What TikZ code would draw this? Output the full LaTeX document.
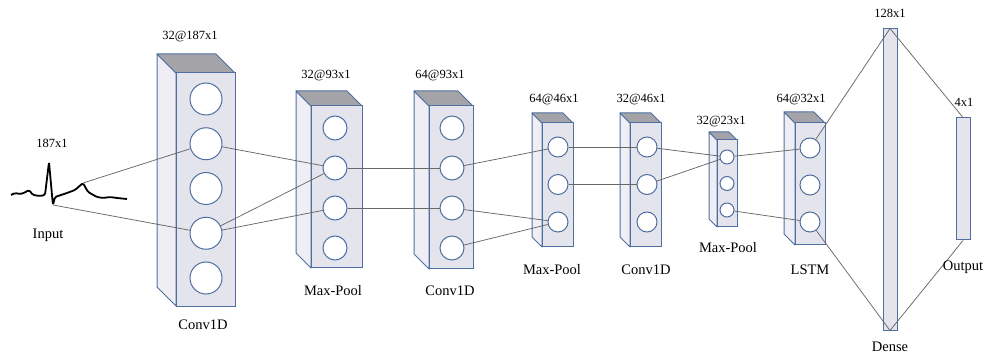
\documentclass[tikz,border=0pt]{standalone}
\usepackage{fontspec}
\setmainfont{Liberation Serif}
\definecolor{edgeblue}{HTML}{4F6FA0}
\definecolor{facegray}{HTML}{E4E4EC}
\definecolor{sidegray}{HTML}{EEEEF4}
\definecolor{topgray}{HTML}{A4A4A8}
\definecolor{linkgray}{HTML}{686868}
\begin{document}
\begin{tikzpicture}[x=1pt, y=-1pt,
  unit/.style={circle, draw=edgeblue, fill=white, line width=1pt, inner sep=0pt},
  link/.style={draw=linkgray, line width=0.75pt},
  dim/.style={font=\fontsize{12.5}{14}\selectfont},
  lbl/.style={font=\fontsize{14.5}{16}\selectfont}]
\useasboundingbox (0,0) rectangle (991,358);

% Blocks: front face, top and left side
\foreach \xa/\ya/\xb/\yb/\d in {
  176/73/235/306/19,
  311/106/362/268/15,
  429/106/473/269/15,
  542/123/573/247/10,
  630/123/661/247/10,
  717/140/737/227/8,
  795/123/825/245/11
} {
  \filldraw[draw=edgeblue, fill=sidegray, line width=1pt, line join=round]
    (\xa-\d,\ya-\d) -- (\xa,\ya) -- (\xa,\yb) -- (\xa-\d,\yb-\d) -- cycle;
  \filldraw[draw=edgeblue, fill=topgray, line width=1pt, line join=round]
    (\xa-\d,\ya-\d) -- (\xb-\d,\ya-\d) -- (\xb,\ya) -- (\xa,\ya) -- cycle;
  \filldraw[draw=edgeblue, fill=facegray, line width=1pt] (\xa,\ya) rectangle (\xb,\yb);
}

% Units in each block (block / x / radius / count / first y / spacing)
\foreach \b/\x/\r/\n/\yo/\dy in {
  1/206/16/5/99/44.75,
  2/335/12/4/128/40,
  3/452/12/4/128/40,
  4/558/10/3/147/37.5,
  5/647/10/3/147/37.5,
  6/727/7/3/157/26.5,
  7/810/10/3/148/37
} {
  \foreach \i in {1,...,\n} {
    \node[unit, minimum size=2*\r] (c\b-\i) at (\x,{\yo+(\i-1)*\dy}) {};
  }
}

% Dense and output layers
\node[draw=edgeblue, fill=facegray, line width=1pt, minimum width=14pt,
  minimum height=301pt, inner sep=0pt] (dense) at (890,179.5) {};
\node[draw=edgeblue, fill=facegray, line width=1pt, minimum width=14pt,
  minimum height=122pt, inner sep=0pt] (out) at (963,179) {};

% Input signal
\draw[line width=1.8pt, line join=round, rounded corners=1.5pt]
  (11,195) -- (15,193) -- (20,194) -- (24,193) -- (29,190) -- (33,195)
  -- (40,196) -- (45,195) -- (49,162) -- (52,195) -- (53,205) -- (55,197)
  -- (67,193) -- (75,190) -- (83,183) -- (88,192) -- (97,197) -- (103,198)
  -- (110,197) -- (117,198) -- (127,199);
\coordinate (ecg-t) at (83,183);
\coordinate (ecg-s) at (53,205);

% Connections
\draw[link] (ecg-t) -- (c1-2);
\draw[link] (ecg-s) -- (c1-4);
\foreach \a/\b in {c1-2/c2-2, c1-4/c2-2, c1-4/c2-3, c2-2/c3-2, c2-3/c3-3,
  c3-2/c4-1, c3-3/c4-3, c3-4/c4-3, c4-1/c5-1, c4-2/c5-2,
  c5-1/c6-1, c5-2/c6-1, c6-1/c7-1, c6-3/c7-3}
  \draw[link] (\a) -- (\b);
\draw[link] (c7-1) -- (dense.north) -- (out.north);
\draw[link] (c7-3) -- (dense.south) -- (out.south);

% Sizes
\node[dim] (d0) at (52,143) {187x1};
\node[dim] (d1) at (190,37) {32@187x1};
\node[dim] (d2) at (326,76) {32@93x1};
\node[dim] (d3) at (440,76) {64@93x1};
\node[dim] (d4) at (554,100) {64@46x1};
\node[dim] (d5) at (641,100) {32@46x1};
\node[dim] (d6) at (721,122) {32@23x1};
\node[dim] (d7) at (801,100) {64@32x1};
\node[dim] (d8) at (890,13) {128x1};
\node[dim] (d9) at (964,102) {4x1};

% Layer names
\node[lbl] (n0) at (48,235) {Input};
\node[lbl] (n1) at (203,325) {Conv1D};
\node[lbl] (n2) at (333,291) {Max-Pool};
\node[lbl] (n3) at (450,291) {Conv1D};
\node[lbl] (n4) at (552,270) {Max-Pool};
\node[lbl] (n5) at (646,270) {Conv1D};
\node[lbl] (n6) at (728,248) {Max-Pool};
\node[lbl] (n7) at (810,270) {LSTM};
\node[lbl] (n8) at (963,267) {Output};
\node[lbl] (n9) at (890,347) {Dense};
\end{tikzpicture}
\end{document}
